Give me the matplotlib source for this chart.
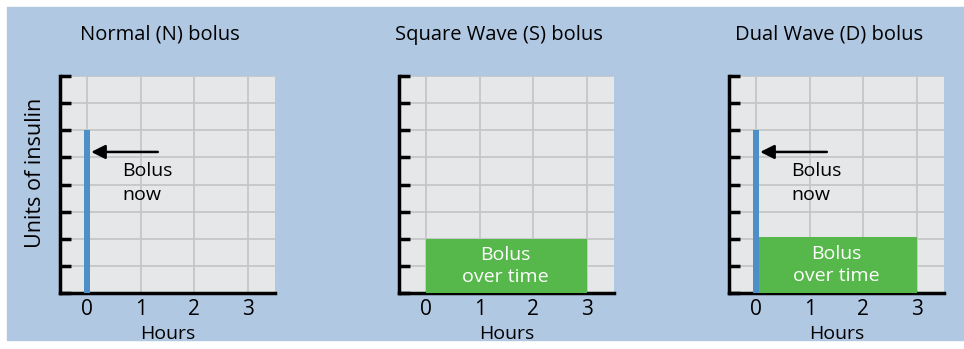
#!/usr/bin/env python3
"""Insulin pump bolus types: normal, square wave, dual wave."""

import matplotlib
matplotlib.use('Agg')
import matplotlib.pyplot as plt
from matplotlib.patches import Rectangle

# =============================================================================
# Data
# =============================================================================
titles = ['Normal (N) bolus', 'Square Wave (S) bolus', 'Dual Wave (D) bolus']
hour_ticks = [0, 1, 2, 3]
unit_ticks = list(range(0, 9))

now_units = [6, 0, 6]            # immediate bolus height
ext_units = [0, 2, 2.05]         # extended bolus height
ext_start = [0, 0, 0.055]        # extended bolus start [h]
ext_end = [3, 3, 3]              # extended bolus end [h]
has_arrow = [True, False, True]

# =============================================================================
# Styles
# =============================================================================
FONT = ['Open Sans', 'DejaVu Sans']
FS = 14
BG_BLUE = '#b1c8e3'
FACE = '#e6e7e9'
GRID = '#c5c6c8'
BAR_BLUE = '#4f8fc8'
GREEN = '#56b84b'

plt.rcParams['font.family'] = FONT
plt.rcParams['font.size'] = FS

fig = plt.figure(figsize=(9.64, 3.49), dpi=100)
fig.patch.set_facecolor('white')
fig.patches.append(Rectangle((7 / 964, 9 / 349), 1, 1 - 16 / 349,
                             transform=fig.transFigure, color=BG_BLUE,
                             zorder=-10))

lefts = [60 / 964, 399 / 964, 729 / 964]
width = 215 / 964
bottom = 56 / 349
height = 217 / 349

for i, title in enumerate(titles):
    ax = fig.add_axes([lefts[i], bottom, width, height])
    ax.set_facecolor(FACE)
    ax.set_xlim(-0.5, 3.5)
    ax.set_ylim(0, 8)

    ax.set_xticks(hour_ticks)
    ax.set_yticks(unit_ticks)
    ax.set_yticklabels([])
    ax.tick_params(axis='x', length=0, pad=4, labelsize=15)
    ax.tick_params(axis='y', direction='in', length=8, width=2.5)
    ax.grid(True, color=GRID, linewidth=1.3)
    ax.set_axisbelow(True)

    for s in ['top', 'right']:
        ax.spines[s].set_visible(False)
    for s in ['left', 'bottom']:
        ax.spines[s].set_linewidth(2.5)
        ax.spines[s].set_color('black')

    if ext_units[i] > 0:
        ax.bar(ext_start[i], ext_units[i], width=ext_end[i] - ext_start[i],
               align='edge', color=GREEN, zorder=3)
        ax.text((ext_start[i] + ext_end[i]) / 2 - 0.03, ext_units[i] / 2,
                'Bolus\nover time', color='white', ha='center', va='center',
                fontsize=FS, linespacing=1.3, zorder=4)

    if now_units[i] > 0:
        ax.bar(0, now_units[i], width=0.11, color=BAR_BLUE, zorder=3)

    if has_arrow[i]:
        ax.annotate('', xy=(0.08, 5.2), xytext=(1.32, 5.2),
                    arrowprops=dict(arrowstyle='-|>', color='black', lw=1.8,
                                    mutation_scale=21, shrinkA=0, shrinkB=0),
                    zorder=5)
        ax.text(0.66, 4.05, 'Bolus\nnow', ha='left', va='center',
                fontsize=FS, linespacing=1.4, zorder=5)

    ax.set_xlabel('Hours', fontsize=FS, labelpad=4)
    ax.text(0.465, 1.19, title, transform=ax.transAxes, ha='center',
            va='center', fontsize=14.5)

    if i == 0:
        ax.text(-0.116, 0.555, 'Units of insulin', transform=ax.transAxes,
                rotation=90, ha='center', va='center', fontsize=15.5)

fig.savefig('out.png', dpi=100)
